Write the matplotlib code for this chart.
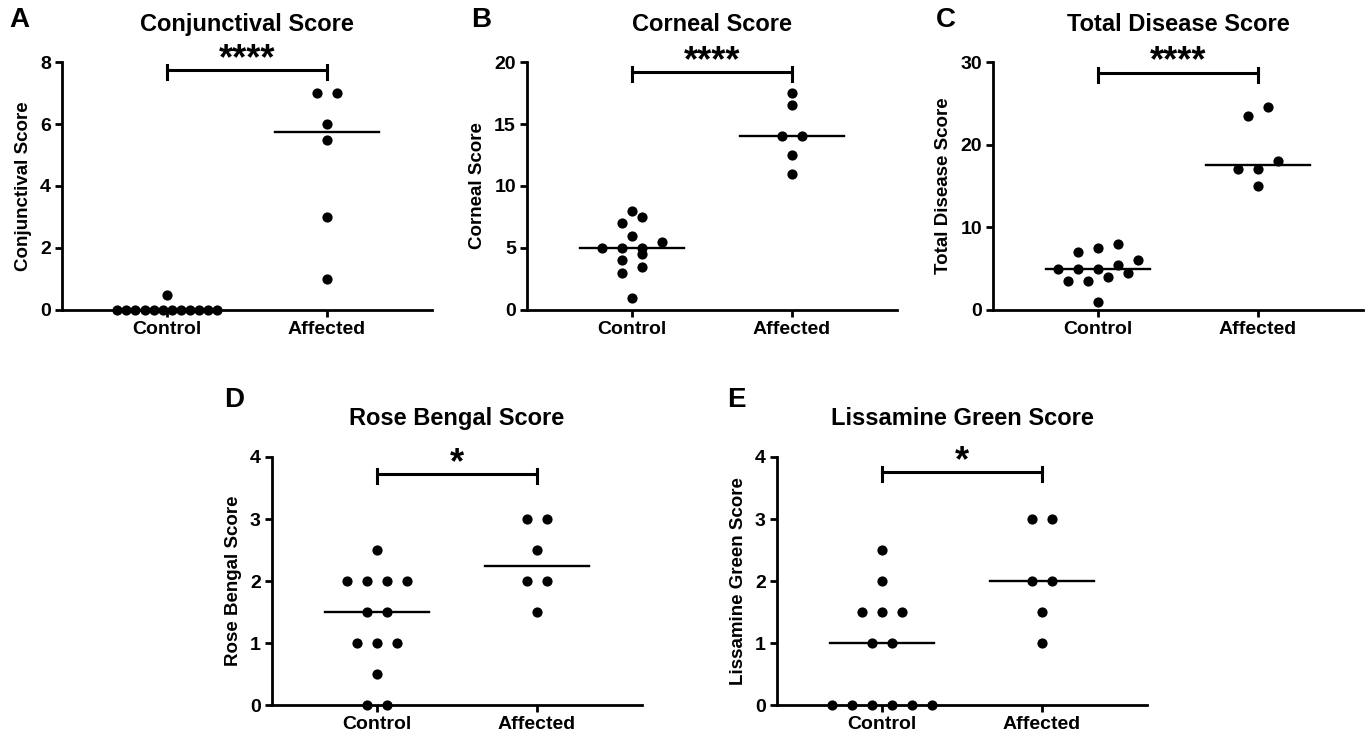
import matplotlib
matplotlib.use("Agg")
import matplotlib.pyplot as plt
import numpy as np

plt.rcParams['font.family'] = ['Liberation Sans', 'DejaVu Sans']
plt.rcParams['font.weight'] = 'bold'

groups = ["Control", "Affected"]

conj_control = [0, 0, 0, 0, 0, 0, 0, 0, 0, 0, 0, 0, 0.5]
conj_affected = [7, 7, 6, 5.5, 3, 1]

corn_control = [8, 7.5, 7, 6, 5.5, 5, 5, 5, 4.5, 4, 3.5, 3, 1]
corn_affected = [17.5, 16.5, 14, 14, 12.5, 11]

total_control = [8, 7.5, 7, 6, 5.5, 5, 5, 5, 4.5, 4, 3.5, 3.5, 1]
total_affected = [24.5, 23.5, 18, 17, 17, 15]

rose_control = [2.5, 2, 2, 2, 2, 1.5, 1.5, 1, 1, 1, 0.5, 0, 0]
rose_affected = [3, 3, 2.5, 2, 2, 1.5]

liss_control = [2.5, 2, 1.5, 1.5, 1.5, 1, 1, 0, 0, 0, 0, 0, 0]
liss_affected = [3, 3, 2, 2, 1.5, 1]

W, H = 1370, 736
fig = plt.figure(figsize=(W / 100, H / 100), dpi=100)

# letter, title, ymax, ystep, control, affected, stars, axes box (px), bar height (axes frac), letter pos (px)
panels = [
    ("A", "Conjunctival Score", 8, 2, conj_control, conj_affected, "****", (62, 62, 370, 248), 0.967, (9, 20)),
    ("B", "Corneal Score", 20, 5, corn_control, corn_affected, "****", (527, 62, 370, 248), 0.96, (471, 20)),
    ("C", "Total Disease Score", 30, 10, total_control, total_affected, "****", (993, 62, 370, 248), 0.957, (936, 20)),
    ("D", "Rose Bengal Score", 4, 1, rose_control, rose_affected, "*", (272, 457, 370, 248), 0.932, (224, 400)),
    ("E", "Lissamine Green Score", 4, 1, liss_control, liss_affected, "*", (777, 457, 370, 248), 0.94, (727, 400)),
]

xmin, xmax = -0.66, 1.66


def swarm(vals, px_y, px_x, step_px=20, half_px=50, row_px=9):
    vals = np.asarray(vals, dtype=float)
    order = np.argsort(vals, kind="stable")
    rows = []
    for i in order:
        if rows and (vals[i] - vals[rows[-1][0]]) * px_y < row_px:
            rows[-1].append(i)
        else:
            rows.append([i])
    offs = np.zeros(len(vals))
    for r in rows:
        n = len(r)
        s = step_px if n == 1 else min(step_px, 2 * half_px / (n - 1))
        for k, i in enumerate(r):
            offs[i] = (k - (n - 1) / 2) * s / px_x
    return offs


for letter, title, ymax, ystep, ctrl, aff, stars, box, bar_frac, lpos in panels:
    x0, y0, w, h = box
    ax = fig.add_axes([x0 / W, 1 - (y0 + h) / H, w / W, h / H])
    px_x = w / (xmax - xmin)
    px_y = h / ymax

    for gi, vals in enumerate([ctrl, aff]):
        xs = gi + swarm(vals, px_y, px_x)
        ax.scatter(xs, vals, s=54, color="black", zorder=3, clip_on=False, linewidths=0)
        med = np.median(vals)
        ax.plot([gi - 0.325, gi + 0.325], [med, med], color="black", lw=1.7, zorder=2)

    # significance bracket
    ybar = bar_frac * ymax
    up, down = 5 / px_y, 9 / px_y
    ax.plot([0, 1], [ybar, ybar], color="black", lw=2.2, clip_on=False)
    for xb in (0, 1):
        ax.plot([xb, xb], [ybar + up, ybar - down], color="black", lw=2.2, clip_on=False)
    ax.annotate(stars, (0.5, ybar), xytext=(0, -5), textcoords="offset points",
                ha="center", va="bottom", fontsize=26, fontweight="bold")

    ax.set_xlim(xmin, xmax)
    ax.set_ylim(0, ymax)
    ax.set_xticks([0, 1])
    ax.set_xticklabels(groups, fontsize=14, fontweight="bold")
    yt = np.arange(0, ymax + ystep / 2, ystep)
    ax.set_yticks(yt)
    ax.set_yticklabels([str(int(v)) for v in yt], fontsize=14, fontweight="bold")
    ax.set_ylabel(title, fontsize=13.5, fontweight="bold", labelpad=6)
    ax.text(0.5, 1 + 38 / h, title, transform=ax.transAxes, ha="center", va="center",
            fontsize=17, fontweight="bold")
    for sp in ("top", "right"):
        ax.spines[sp].set_visible(False)
    for sp in ("left", "bottom"):
        ax.spines[sp].set_linewidth(2)
    ax.tick_params(axis="both", width=2, length=5, pad=3)

    fig.text(lpos[0] / W, 1 - lpos[1] / H, letter, fontsize=20, fontweight="bold",
             ha="left", va="center")

fig.savefig("out.png", dpi=100)
